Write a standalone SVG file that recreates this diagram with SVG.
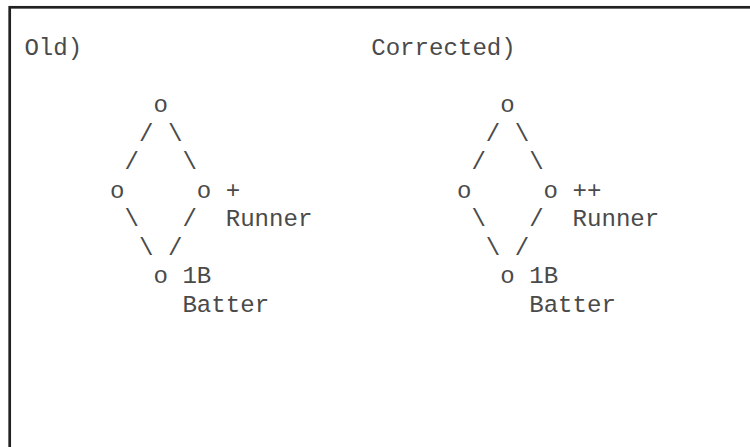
<svg xmlns="http://www.w3.org/2000/svg" width="750" height="447" viewBox="0 0 750 447">
<style>
text{font-family:"Liberation Mono","DejaVu Sans Mono",monospace;font-size:24.1px;fill:#4a4a4a}
.frame{fill:#fff;stroke:#222;stroke-width:2.7}
</style>
<rect x="0" y="0" width="750" height="447" fill="#fff"/>
<rect class="frame" x="9.7" y="7.3" width="800" height="500"/>
<g id="titles">
<text x="24.4" y="55">Old)</text>
<text x="371.2" y="55">Corrected)</text>
</g>
<g id="connectors">
<text x="139" y="140.6">/</text><text x="167.9" y="140.6">\</text>
<text x="124.6" y="169.2">/</text><text x="182.4" y="169.2">\</text>
<text x="124.6" y="226.3">\</text><text x="182.4" y="226.3">/</text>
<text x="139" y="254.9">\</text><text x="167.9" y="254.9">/</text>
<text x="485.8" y="140.6">/</text><text x="514.7" y="140.6">\</text>
<text x="471.4" y="169.2">/</text><text x="529.2" y="169.2">\</text>
<text x="471.4" y="226.3">\</text><text x="529.2" y="226.3">/</text>
<text x="485.8" y="254.9">\</text><text x="514.7" y="254.9">/</text>
</g>
<g id="old-top"><text x="153.5" y="112">o</text></g>
<g id="old-left"><text x="110.1" y="197.7">o</text></g>
<g id="old-runner"><text x="196.8" y="197.7">o</text><text x="225.7" y="197.7">+</text><text x="225.7" y="226.3">Runner</text></g>
<g id="old-batter"><text x="153.5" y="283.4">o</text><text x="182.4" y="283.4">1B</text><text x="182.4" y="312">Batter</text></g>
<g id="new-top"><text x="500.3" y="112">o</text></g>
<g id="new-left"><text x="456.9" y="197.7">o</text></g>
<g id="new-runner"><text x="543.6" y="197.7">o</text><text x="572.5" y="197.7">++</text><text x="572.5" y="226.3">Runner</text></g>
<g id="new-batter"><text x="500.3" y="283.4">o</text><text x="529.2" y="283.4">1B</text><text x="529.2" y="312">Batter</text></g>
</svg>
